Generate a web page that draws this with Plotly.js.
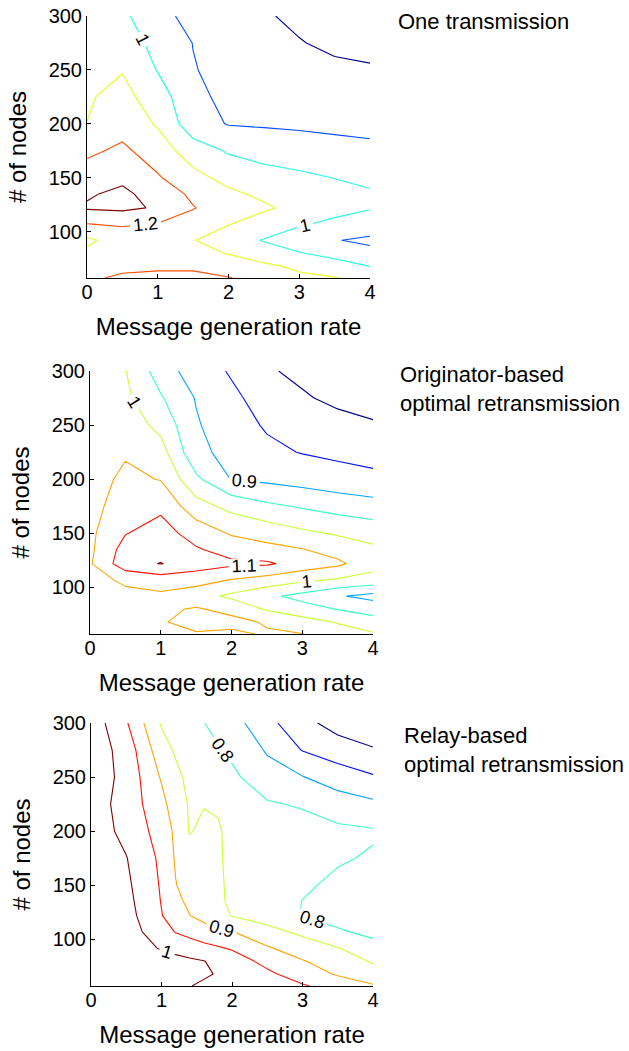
<!DOCTYPE html>
<html>
<head>
<meta charset="utf-8">
<script src="https://cdn.plot.ly/plotly-3.0.1.min.js"></script>
<style>
  html, body { margin: 0; padding: 0; background: #ffffff; }
  #chart { width: 629px; height: 1051px; }
</style>
</head>
<body>
<div id="chart"></div>
<script>
// ---- data ----
const rates = [0, 0.5, 1, 1.5, 2, 2.5, 3, 3.5, 4];
const ratesRelay = [0, 0.5, 1, 1.2, 1.4, 1.6, 1.8, 2, 2.5, 3, 3.5, 4];
const nodes = [57, 68, 80, 92, 107, 122, 135, 150, 175, 200, 225, 250, 275, 300];

// One transmission (rows = nodes, columns = rates)
const oneTransmission = [
  [1.18, 1.22, 1.23, 1.23, 1.205, 1.16, 1.12, 1.105, 1.06],
  [1.14, 1.17, 1.18, 1.18, 1.15, 1.12, 1.08, 1.04, 0.998],
  [1.12, 1.16, 1.16, 1.13, 1.095, 1.04, 1.005, 0.97, 0.93],
  [1.08, 1.15, 1.14, 1.105, 1.04, 0.995, 0.95, 0.905, 0.88],
  [1.198, 1.21, 1.195, 1.15, 1.105, 1.05, 1.01, 0.98, 0.96],
  [1.31, 1.32, 1.29, 1.205, 1.15, 1.115, 1.07, 1.03, 1.005],
  [1.29, 1.32, 1.26, 1.18, 1.12, 1.08, 1.05, 1.03, 1.01],
  [1.25, 1.28, 1.21, 1.13, 1.07, 1.04, 1.02, 0.998, 0.98],
  [1.18, 1.22, 1.15, 1.05, 0.99, 0.96, 0.945, 0.93, 0.92],
  [1.101, 1.16, 1.09, 0.94, 0.895, 0.89, 0.885, 0.88, 0.875],
  [1.09, 1.13, 1.05, 0.92, 0.88, 0.87, 0.86, 0.845, 0.835],
  [1.08, 1.095, 0.995, 0.905, 0.87, 0.86, 0.84, 0.82, 0.81],
  [1.08, 1.05, 0.97, 0.898, 0.87, 0.84, 0.805, 0.78, 0.77],
  [1.06, 1.02, 0.93, 0.87, 0.85, 0.81, 0.78, 0.76, 0.75]
];

// Originator-based optimal retransmission
const originatorBased = [
  [1.01, 1.02, 1.03, 1.045, 1.04, 1.055, 1.051, 1.02, 1.005],
  [1.015, 1.03, 1.045, 1.07, 1.065, 1.045, 1.02, 0.997, 0.97],
  [1.02, 1.03, 1.04, 1.055, 1.035, 0.995, 0.97, 0.948, 0.93],
  [1.02, 1.035, 1.04, 1.02, 0.99, 0.96, 0.935, 0.905, 0.885],
  [1.03, 1.06, 1.075, 1.07, 1.048, 1.03, 1.01, 0.995, 0.98],
  [1.045, 1.13, 1.152, 1.125, 1.11, 1.107, 1.08, 1.06, 1.02],
  [1.04, 1.12, 1.13, 1.105, 1.08, 1.065, 1.052, 1.03, 1.01],
  [1.04, 1.098, 1.12, 1.08, 1.045, 1.03, 1.01, 0.995, 0.98],
  [1.03, 1.08, 1.09, 1.02, 0.985, 0.96, 0.945, 0.93, 0.92],
  [1.03, 1.06, 1.048, 0.96, 0.898, 0.89, 0.88, 0.87, 0.86],
  [1.04, 1.045, 1.02, 0.912, 0.885, 0.86, 0.848, 0.84, 0.835],
  [1.045, 1.03, 0.985, 0.905, 0.87, 0.845, 0.83, 0.815, 0.805],
  [1.04, 1.01, 0.955, 0.897, 0.86, 0.83, 0.805, 0.79, 0.78],
  [1.03, 1.002, 0.925, 0.875, 0.845, 0.805, 0.79, 0.775, 0.765]
];

// Relay-based optimal retransmission
const relayBased = [
  [1.1, 1.065, 1.03, 1.015, 1.002, 0.99, 0.98, 0.975, 0.965, 0.955, 0.93, 0.905],
  [1.09, 1.06, 1.035, 1.025, 1.015, 1.008, 0.996, 0.985, 0.96, 0.925, 0.895, 0.87],
  [1.08, 1.05, 1.025, 1.015, 1.008, 1.001, 0.99, 0.975, 0.935, 0.903, 0.875, 0.845],
  [1.07, 1.035, 0.995, 0.985, 0.975, 0.965, 0.955, 0.945, 0.905, 0.875, 0.852, 0.815],
  [1.06, 1.025, 0.97, 0.948, 0.935, 0.92, 0.91, 0.902, 0.865, 0.84, 0.805, 0.79],
  [1.05, 1.02, 0.952, 0.925, 0.901, 0.885, 0.865, 0.848, 0.83, 0.798, 0.785, 0.78],
  [1.05, 1.015, 0.948, 0.912, 0.89, 0.875, 0.86, 0.84, 0.83, 0.799, 0.785, 0.78],
  [1.05, 1.01, 0.945, 0.902, 0.88, 0.87, 0.858, 0.84, 0.825, 0.807, 0.79, 0.785],
  [1.04, 1.002, 0.94, 0.895, 0.87, 0.865, 0.855, 0.84, 0.825, 0.815, 0.805, 0.795],
  [1.03, 0.985, 0.93, 0.89, 0.847, 0.86, 0.852, 0.845, 0.83, 0.82, 0.81, 0.805],
  [1.025, 0.98, 0.915, 0.875, 0.845, 0.848, 0.848, 0.84, 0.805, 0.795, 0.775, 0.76],
  [1.03, 0.985, 0.895, 0.86, 0.84, 0.83, 0.82, 0.81, 0.77, 0.752, 0.725, 0.705],
  [1.03, 0.98, 0.87, 0.845, 0.835, 0.825, 0.805, 0.79, 0.745, 0.698, 0.675, 0.655],
  [1.03, 0.955, 0.845, 0.835, 0.82, 0.801, 0.785, 0.77, 0.715, 0.665, 0.63, 0.61]
];

// contour levels and the levels that carry a text label
const levelsOne = [0.8, 0.9, 1.0, 1.1, 1.2, 1.3];
const labelledOne = [0.8, 1.0, 1.2];
const levelsOriginator = [0.8, 0.85, 0.9, 0.95, 1.0, 1.05, 1.1, 1.15];
const labelledOriginator = [0.8, 0.9, 1.0, 1.1];
const levelsRelay = [0.65, 0.7, 0.75, 0.8, 0.85, 0.9, 0.95, 1.0];
const labelledRelay = [0.7, 0.8, 0.9, 1.0];

const panelTitles = [
  "One transmission",
  "Originator-based<br>optimal retransmission",
  "Relay-based<br>optimal retransmission"
];
const xTitle = "Message generation rate";
const yTitle = "# of nodes";
const xTicks = [0, 1, 2, 3, 4];
const yTicks = [100, 150, 200, 250, 300];

// ---- styling ----
const FONT = "Liberation Sans, Arial, Helvetica, sans-serif";
// MATLAB jet colour map stops
const jetStops = [
  [0, [0, 0, 143]], [0.125, [0, 0, 255]], [0.375, [0, 255, 255]],
  [0.625, [255, 255, 0]], [0.875, [255, 0, 0]], [1, [128, 0, 0]]
];
function jet(p) {
  for (let i = 1; i < jetStops.length; i++) {
    const a = jetStops[i - 1], b = jetStops[i];
    if (p <= b[0] + 1e-9) {
      const t = (p - a[0]) / (b[0] - a[0]);
      const c = a[1].map((v, k) => Math.round(v + (b[1][k] - v) * t));
      return "rgb(" + c.join(",") + ")";
    }
  }
  return "rgb(128,0,0)";
}

function panelTraces(x, z, levels, labelled, xa, ya) {
  const n = levels.length;
  return levels.map((lv, i) => {
    const col = jet(i / (n - 1));
    const lab = labelled.some(v => Math.abs(v - lv) < 1e-9);
    return {
      type: "contour", x: x, y: nodes, z: z,
      xaxis: xa, yaxis: ya,
      colorscale: [[0, col], [1, col]], showscale: false, autocontour: false,
      contours: {
        start: lv, end: lv, size: 1,
        coloring: "lines", showlabels: lab, labelformat: ".2~f",
        labelfont: { family: FONT, size: 18, color: "#000000" }
      },
      line: { width: 1.1, smoothing: 0, color: col },
      hoverinfo: "skip"
    };
  });
}

const data = [].concat(
  panelTraces(rates, oneTransmission, levelsOne, labelledOne, "x", "y"),
  panelTraces(rates, originatorBased, levelsOriginator, labelledOriginator, "x2", "y2"),
  panelTraces(ratesRelay, relayBased, levelsRelay, labelledRelay, "x3", "y3")
);

const W = 629, H = 1051;
// pixel boxes of the three plot areas [left, right, top, bottom]
const boxes = [[87, 370, 16, 278], [90, 373, 371, 634], [91, 373, 723, 986]];

function xAxis(b, anchor) {
  return {
    domain: [b[0] / W, b[1] / W], anchor: anchor, range: [0, 4],
    tickvals: xTicks, ticks: "inside", ticklen: 4, tickcolor: "#000",
    showline: true, linecolor: "#000", linewidth: 1, mirror: false,
    showgrid: false, zeroline: false,
    tickfont: { family: FONT, size: 20, color: "#000" },
    ticklabelstandoff: -4,
    title: { text: xTitle, font: { family: FONT, size: 24, color: "#000" }, standoff: 16 }
  };
}
function yAxis(b, anchor) {
  return {
    domain: [1 - b[3] / H, 1 - b[2] / H], anchor: anchor, range: [57, 300],
    tickvals: yTicks, ticks: "inside", ticklen: 4, tickcolor: "#000",
    showline: true, linecolor: "#000", linewidth: 1, mirror: false,
    showgrid: false, zeroline: false,
    tickfont: { family: FONT, size: 20, color: "#000" },
    title: { text: yTitle, font: { family: FONT, size: 24, color: "#000" }, standoff: 15 }
  };
}

const titleX = [396, 398, 402];
const titleTop = [7, 360, 721];
const annotations = panelTitles.map((t, i) => ({
  text: t, xref: "paper", yref: "paper",
  x: titleX[i] / W, y: 1 - titleTop[i] / H,
  xanchor: "left", yanchor: "top", align: "left", showarrow: false,
  font: { family: FONT, size: 22, color: "#000" }
}));

const layout = {
  width: W, height: H,
  margin: { l: 0, r: 0, t: 0, b: 0 },
  paper_bgcolor: "#ffffff", plot_bgcolor: "#ffffff",
  showlegend: false,
  xaxis: xAxis(boxes[0], "y"), yaxis: yAxis(boxes[0], "x"),
  xaxis2: xAxis(boxes[1], "y2"), yaxis2: yAxis(boxes[1], "x2"),
  xaxis3: xAxis(boxes[2], "y3"), yaxis3: yAxis(boxes[2], "x3"),
  annotations: annotations
};

Plotly.newPlot("chart", data, layout, { displayModeBar: false, staticPlot: true });
</script>
</body>
</html>
